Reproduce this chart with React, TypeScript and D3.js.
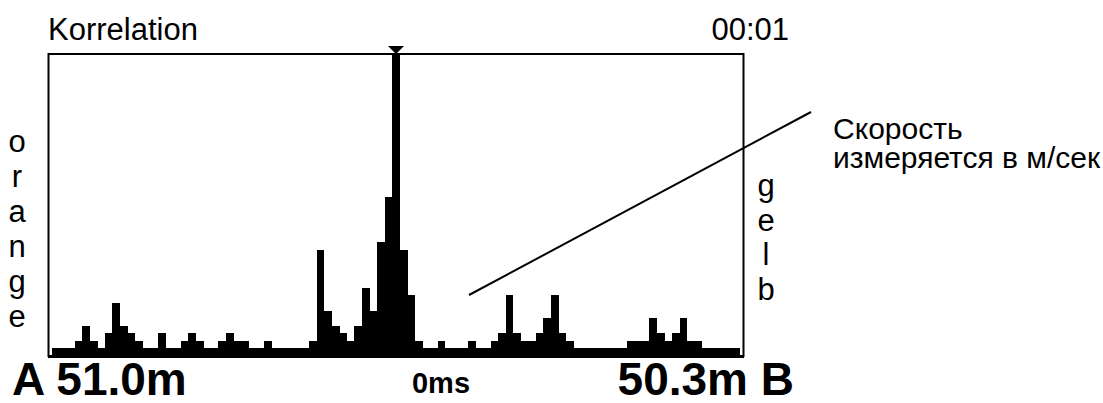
import { useEffect, useRef } from 'react';
import * as d3 from 'd3';

// correlation histogram, heights in grid units (0..40 = full frame)
const BIN_VALUES = [
  1, 1, 1, 2, 4, 2, 1, 3, 7, 4,
  3, 2, 1, 1, 3, 1, 1, 2, 3, 2,
  1, 1, 2, 3, 2, 2, 1, 1, 2, 1,
  1, 1, 1, 1, 2, 14, 6, 4, 3, 2,
  4, 9, 6, 15, 21, 40, 14, 8, 2, 1,
  1, 2, 1, 1, 1, 2, 1, 1, 2, 3,
  8, 3, 2, 2, 3, 5, 8, 3, 2, 1,
  1, 1, 1, 1, 1, 1, 2, 2, 2, 5,
  3, 2, 3, 5, 2, 2, 1, 1, 1, 1,
  1,
];
const PEAK_INDEX = 45;
const Y_MAX = 40;

const TITLE = 'Korrelation';
const TIME_LABEL = '00:01';
const LEFT_LETTERS = ['o', 'r', 'a', 'n', 'g', 'e'];
const RIGHT_LETTERS = ['g', 'e', 'l', 'b'];
const NOTE_LINES = ['Скорость', 'измеряется в м/сек'];
const LEFT_DIST = 'A 51.0m';
const RIGHT_DIST = '50.3m B';
const CENTER_LABEL = '0ms';

const W = 1103;
const H = 403;
const FONT = '"Liberation Sans", Arial, sans-serif';

export default function App() {
  const svgRef = useRef<SVGSVGElement | null>(null);

  useEffect(() => {
    const svg = d3.select(svgRef.current);
    svg.selectAll('*').remove();

    const frame = { left: 48, right: 744, top: 54, bottom: 356 };

    const x = d3.scaleBand<number>()
      .domain(BIN_VALUES.map((_, i) => i))
      .range([52, 740])
      .padding(0);
    const y = d3.scaleLinear().domain([0, Y_MAX]).range([356, frame.top - 1]).clamp(true);

    svg.append('rect').attr('width', W).attr('height', H).attr('fill', '#fff');

    // bars
    svg.append('g')
      .selectAll('rect')
      .data(BIN_VALUES)
      .join('rect')
      .attr('x', (_, i) => x(i)!)
      .attr('width', x.bandwidth() + 0.3)
      .attr('y', d => y(d))
      .attr('height', d => y(0) - y(d))
      .attr('fill', '#000')
      .attr('shape-rendering', 'crispEdges');

    // frame
    svg.append('rect')
      .attr('x', frame.left + 0.5)
      .attr('y', frame.top)
      .attr('width', frame.right - frame.left - 1)
      .attr('height', frame.bottom - frame.top)
      .attr('fill', 'none')
      .attr('stroke', '#000')
      .attr('stroke-width', 2);
    svg.append('line')
      .attr('x1', frame.left).attr('x2', frame.right)
      .attr('y1', frame.bottom + 0.5).attr('y2', frame.bottom + 0.5)
      .attr('stroke', '#000').attr('stroke-width', 3);

    // peak marker
    const px = x(PEAK_INDEX)! + x.bandwidth() / 2;
    svg.append('path')
      .attr('d', `M${px - 8},${frame.top - 8}L${px + 8},${frame.top - 8}L${px},${frame.top}Z`)
      .attr('fill', '#000');

    const text = (t: string, tx: number, ty: number, size: number, anchor = 'start', weight = 'normal') =>
      svg.append('text')
        .attr('x', tx).attr('y', ty)
        .attr('font-family', FONT)
        .attr('font-size', size)
        .attr('font-weight', weight)
        .attr('text-anchor', anchor)
        .attr('fill', '#000')
        .text(t);

    text(TITLE, 48, 40, 31);
    text(TIME_LABEL, 789, 40, 31, 'end');

    LEFT_LETTERS.forEach((l, i) => text(l, 17, 152 + i * 35, 31, 'middle'));
    RIGHT_LETTERS.forEach((l, i) => text(l, 766, 196 + i * 34.5, 31, 'middle'));

    // annotation
    svg.append('line')
      .attr('x1', 469).attr('y1', 295)
      .attr('x2', 811).attr('y2', 112)
      .attr('stroke', '#000').attr('stroke-width', 2);
    NOTE_LINES.forEach((l, i) => text(l, 833, 139 + i * 29, 30));

    text(LEFT_DIST, 12, 395, 46, 'start', 'bold');
    text(RIGHT_DIST, 794, 395, 46, 'end', 'bold');
    text(CENTER_LABEL, 441, 393, 30, 'middle', 'bold')
      .attr('textLength', 58)
      .attr('lengthAdjust', 'spacingAndGlyphs');
  }, []);

  return (
    <svg
      ref={svgRef}
      width={W}
      height={H}
      style={{ position: 'absolute', left: 0, top: 0 }}
    />
  );
}
